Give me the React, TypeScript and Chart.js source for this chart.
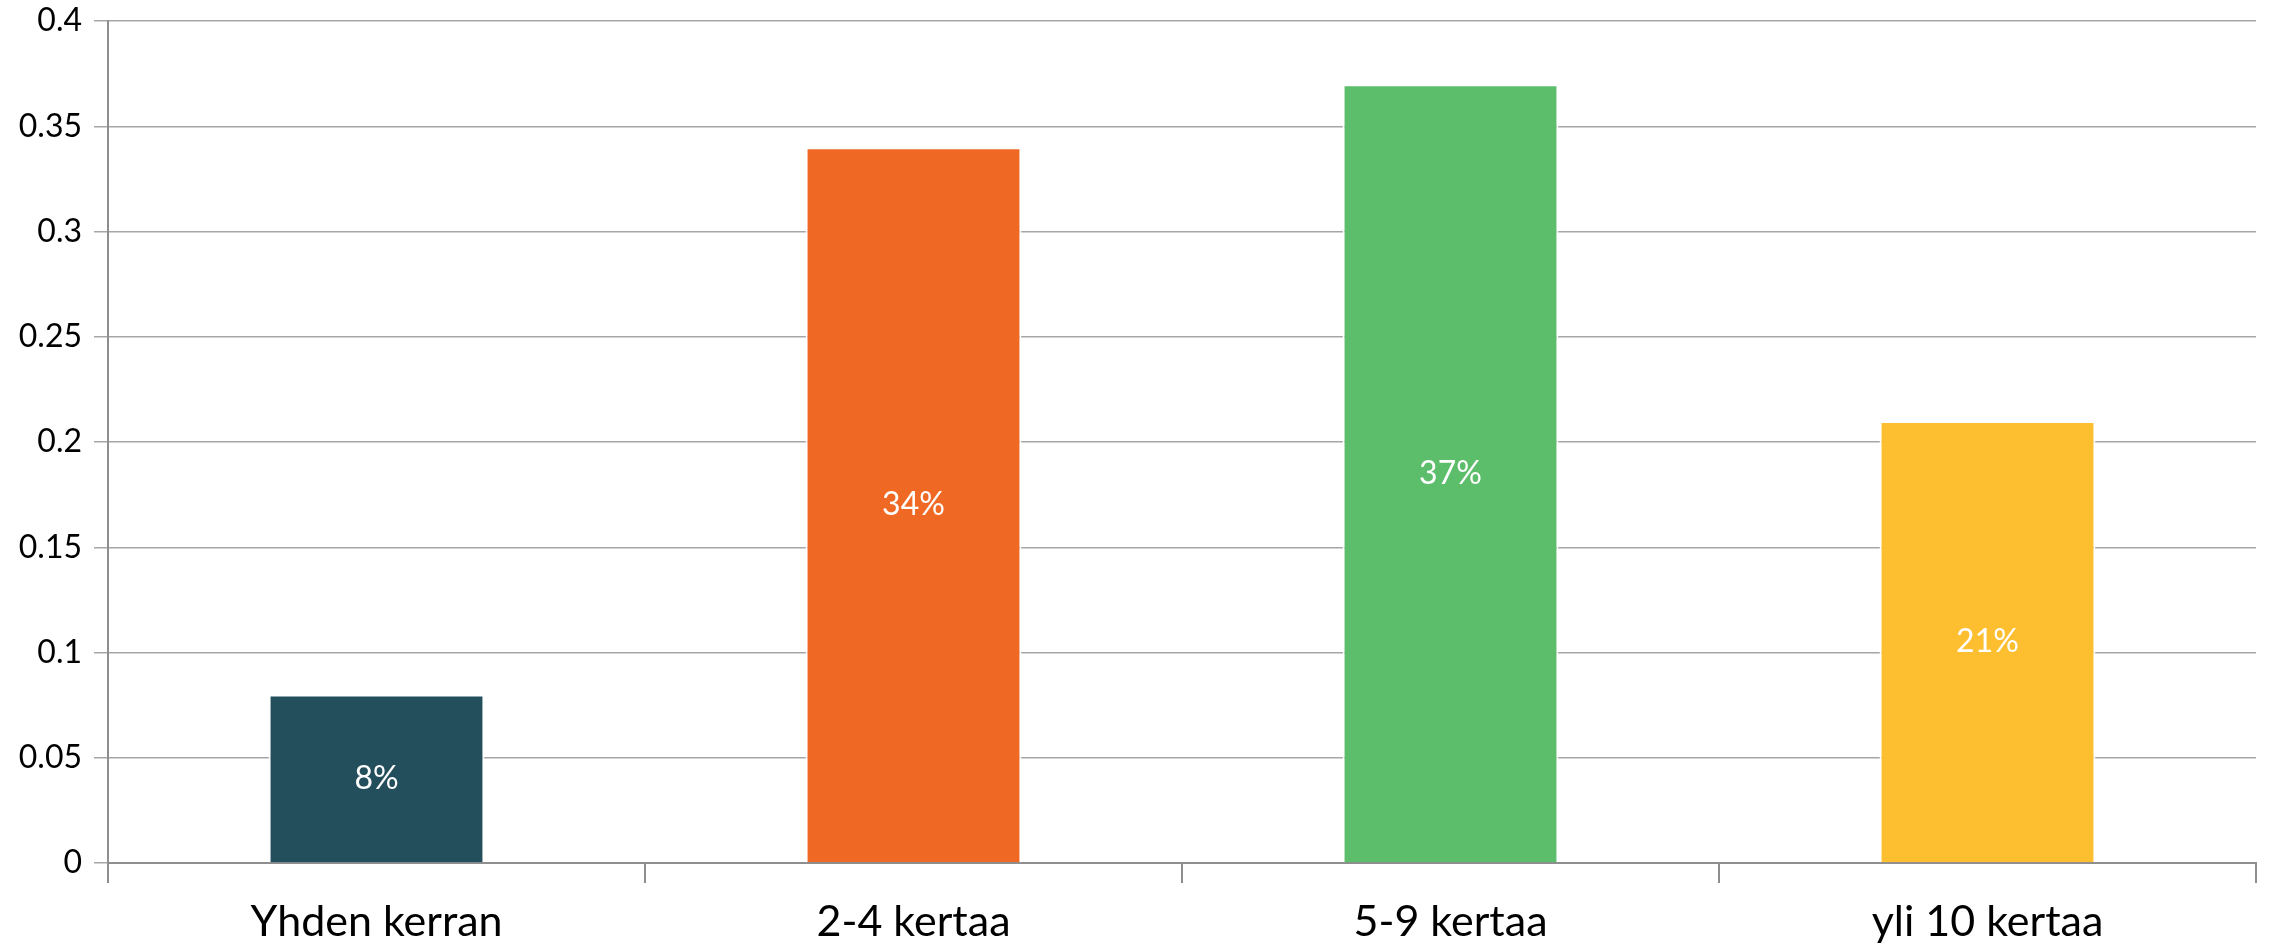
import React, { useEffect, useRef } from "react";
import { Chart, registerables } from "chart.js";

Chart.register(...registerables);

const categories = ["Yhden kerran", "2-4 kertaa", "5-9 kertaa", "yli 10 kertaa"];
const values = [0.08, 0.34, 0.37, 0.21];
const valueLabels = ["8%", "34%", "37%", "21%"];
const barColors = ["#234e5b", "#f06924", "#5cbd6b", "#fdbf2f"];
const yTicks = [0, 0.05, 0.1, 0.15, 0.2, 0.25, 0.3, 0.35, 0.4];

const FONT = "Lato";

const labelPlugin = {
  id: "barLabels",
  afterDatasetsDraw(chart: any) {
    const ctx = chart.ctx;
    const meta = chart.getDatasetMeta(0);
    ctx.save();
    ctx.fillStyle = "#ffffff";
    ctx.font = `32px ${FONT}`;
    ctx.textAlign = "center";
    ctx.textBaseline = "middle";
    meta.data.forEach((bar: any, i: number) => {
      const p = bar.getProps(["x", "y", "base"], true);
      ctx.fillText(valueLabels[i], p.x, (p.y + p.base) / 2);
    });
    ctx.restore();
  },
};

export default function App() {
  const ref = useRef<HTMLCanvasElement>(null);
  useEffect(() => {
    if (!ref.current) return;
    const chart = new Chart(ref.current, {
      type: "bar",
      data: {
        labels: categories,
        datasets: [
          {
            data: values,
            backgroundColor: barColors,
            borderColor: "#ffffff",
            borderWidth: 2,
            categoryPercentage: 1,
            barPercentage: 0.402,
          },
        ],
      },
      options: {
        animation: false,
        responsive: false,
        maintainAspectRatio: false,
        layout: { padding: { top: 21, right: 13, left: 0, bottom: 0 } },
        plugins: { legend: { display: false }, tooltip: { enabled: false } },
        scales: {
          x: {
            grid: {
              offset: true,
              drawOnChartArea: false,
              drawTicks: true,
              tickLength: 20,
              color: "#8e8e8e",
              lineWidth: 2,
            },
            border: { display: true, color: "#8e8e8e", width: 2 },
            ticks: {
              color: "#000000",
              font: { family: FONT, size: 43 },
              padding: 13,
              maxRotation: 0,
            },
            afterFit: (s: any) => {
              s.height = 89;
              s.paddingLeft = 0;
              s.paddingRight = 0;
            },
          },
          y: {
            min: 0,
            max: 0.4,
            afterBuildTicks: (s: any) => {
              s.ticks = yTicks.map((v) => ({ value: v }));
            },
            grid: {
              color: "#a6a6a6",
              lineWidth: 1.5,
              drawTicks: true,
              tickLength: 14,
            },
            border: { display: true, color: "#8e8e8e", width: 2 },
            ticks: {
              color: "#000000",
              font: { family: FONT, size: 32 },
              padding: 12,
              callback: (v: any) => String(Number(v)),
            },
            afterFit: (s: any) => {
              s.width = 108;
              s.paddingTop = 0;
              s.paddingBottom = 0;
            },
          },
        },
      },
      plugins: [labelPlugin],
    });
    return () => chart.destroy();
  }, []);
  return (
    <div style={{ position: "fixed", left: 0, top: 0, width: 2269, height: 952, background: "#fff" }}>
      <canvas ref={ref} width={2269} height={952} style={{ width: 2269, height: 952 }} />
    </div>
  );
}
